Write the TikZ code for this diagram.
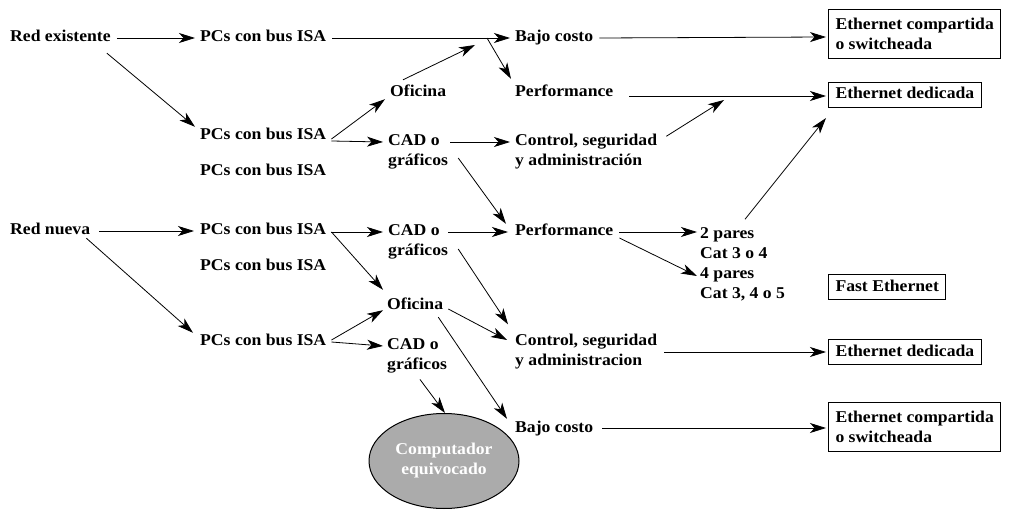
\documentclass[tikz,border=0pt]{standalone}
\usepackage{fontspec}
\setmainfont{Liberation Serif}[FakeStretch=1.07]
\usetikzlibrary{arrows.meta,calc,shapes.geometric}
\newcommand\lblfont{\bfseries\fontsize{16.5}{20}\selectfont}
\begin{document}
\begin{tikzpicture}[x=1pt,y=-1pt,
  lbl/.style={anchor=west,inner sep=0pt,align=left,font=\lblfont},
  one/.style={lbl,text height=11pt,text depth=3pt},
  outcome/.style={draw,line width=1pt,anchor=west,align=left,font=\lblfont,
    inner xsep=7pt,inner ysep=5.5pt,text height=11pt,text depth=3pt},
  outcometwo/.style={draw,line width=1pt,anchor=west,align=left,font=\lblfont,
    inner xsep=7pt,inner ysep=9pt},
  link/.style={line width=0.8pt,-{Stealth[length=16pt,width=10pt,inset=4.5pt]}},
]
\useasboundingbox (0,0) rectangle (1016,510);

% ---- existing network branch
\node[one] (re)    at (10,38)  {Red existente};
\node[one] (pc1)   at (200,38) {PCs con bus ISA};
\node[one] (pc2)   at (200,136) {PCs con bus ISA};
\node[one] (pc2b)  at (200,172) {PCs con bus ISA};
\node[one] (bc1)   at (515,38) {Bajo costo};
\node[one] (of1)   at (390,93) {Oficina};
\node[one] (perf1) at (515,93) {Performance};
\node[lbl] (cad1)  at (388,152) {CAD o\\gráficos};
\node[lbl] (ctl1)  at (515,152) {Control, seguridad\\y administración};
\node[outcometwo] (box1) at (828,34) {Ethernet compartida\\o switcheada};
\node[outcome] (box2) at (828,95) {Ethernet dedicada};

% ---- new network branch
\node[one] (rn)    at (10,231)  {Red nueva};
\node[one] (pc3)   at (200,231) {PCs con bus ISA};
\node[one] (pc3b)  at (200,267) {PCs con bus ISA};
\node[one] (pc4)   at (200,341) {PCs con bus ISA};
\node[lbl] (cad2)  at (388,242) {CAD o\\gráficos};
\node[one] (perf2) at (515,232) {Performance};
\node[lbl] (p2)    at (700,243) {2 pares\\Cat 3 o 4};
\node[lbl] (p4)    at (700,284) {4 pares\\Cat 3, 4 o 5};
\node[outcome] (box3) at (828,287) {Fast Ethernet};
\node[one] (of2)   at (387,305) {Oficina};
\node[lbl] (cad3)  at (387,356) {CAD o\\gráficos};
\node[lbl] (ctl2)  at (515,352) {Control, seguridad\\y administracion};
\node[outcome] (box4) at (828,352) {Ethernet dedicada};
\node[one] (bc2)   at (515,428) {Bajo costo};
\node[outcometwo] (box5) at (828,427) {Ethernet compartida\\o switcheada};
\node[ellipse,draw,line width=1pt,fill=black!33,minimum width=150pt,
  minimum height=95pt,inner sep=0pt,align=center,font=\lblfont,text=white]
  (ell) at (444,461) {Computador\\equivocado};

% ---- connectors, existing network
\draw[link] ($(re.east)+(6,0)$) -- ($(pc1.west)+(-5,0)$);
\draw[link] ($(re.south east)+(-4,8)$) -- ($(pc2.north west)+(-5,-2)$);
\coordinate (j1) at ($(bc1.west)+(-28,0)$);
\draw[link] ($(pc1.east)+(6,0)$) -- ($(bc1.west)+(-5,0)$);
\draw[link] (j1) -- ($(perf1.north west)+(-4,-7)$);
\draw[link] ($(of1.north west)+(13,-6)$) -- ($(j1)+(-12,7)$);
\coordinate (f2) at ($(pc2.east)+(5,5)$);
\draw[link] ($(f2)+(0,-2)$) -- ($(of1.south west)+(-5,-1)$);
\draw[link] (f2) -- ($(cad1.west)+(-5,-10)$);
\draw[link] ($(cad1.west)+(62,-10)$) -- ($(ctl1.west)+(-5,-10)$);
\draw[link] ($(cad1.east)+(10,6)$) -- ($(perf2.north west)+(-9,-1)$);
\draw[link] ($(bc1.east)+(6,0)$) -- ($(box1.west)+(-2,3)$);
\coordinate (j2) at ($(box2.west)+(-101,2)$);
\draw[link] ($(perf1.east)+(16,3)$) -- ($(box2.west)+(-2,1)$);
\draw[link] ($(ctl1.north east)+(9,2)$) -- ($(j2)+(-3,3)$);
\draw[link] ($(p2.north west)+(45,-8)$) -- ($(box2.south west)+(-2,10)$);

% ---- connectors, new network
\draw[link] ($(rn.east)+(9,0)$) -- ($(pc3.west)+(-6,0)$);
\draw[link] ($(rn.south east)+(-4,0)$) -- ($(pc4.north west)+(-7,-1)$);
\coordinate (f3) at ($(pc3.east)+(5,1)$);
\draw[link] (f3) -- ($(cad2.west)+(-5,-10)$);
\draw[link] (f3) -- ($(of2.north west)+(-4,-8)$);
\draw[link] ($(cad2.west)+(60,-10)$) -- ($(perf2.west)+(-7,0)$);
\draw[link] ($(cad2.east)+(10,7)$) -- ($(ctl2.north west)+(-7,-10)$);
\draw[link] ($(perf2.east)+(6,0)$) -- ($(p2.west)+(-3,-11)$);
\draw[link] ($(perf2.east)+(6,6)$) -- ($(p4.west)+(-3,-8)$);
\draw[link] ($(of2.east)+(5,4)$) -- ($(ctl2.west)+(-8,-12)$);
\draw[link] ($(of2.south east)+(-5,5)$) -- ($(bc2.north west)+(-8,-2)$);
\coordinate (f4) at ($(pc4.east)+(5,1)$);
\draw[link] ($(f4)+(0,-2)$) -- ($(of2.south west)+(-4,-2)$);
\draw[link] (f4) -- ($(cad3.west)+(-4,-10)$);
\draw[link] ($(cad3.south west)+(33,6)$) -- ($(ell.north)+(1,0)$);
\draw[link] ($(ctl2.east)+(7,0)$) -- ($(box4.west)+(-2,0)$);
\draw[link] ($(bc2.east)+(9,0)$) -- ($(box5.west)+(-2,1)$);
\end{tikzpicture}
\end{document}
